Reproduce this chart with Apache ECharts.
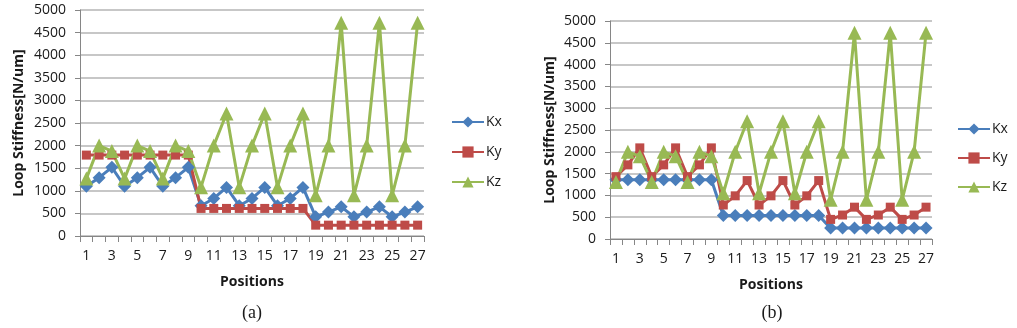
<!DOCTYPE html>
<html>
<head>
<meta charset="utf-8">
<script src="https://cdn.jsdelivr.net/npm/echarts@6/dist/echarts.min.js"></script>
<style>
  html, body { margin: 0; padding: 0; background: #fff; }
  #chart { width: 1017px; height: 328px; }
</style>
</head>
<body>
<div id="chart"></div>
<script>
// Measurement positions along the axis
const positions = ['1','2','3','4','5','6','7','8','9','10','11','12','13','14','15','16','17','18','19','20','21','22','23','24','25','26','27'];

// Panel (a): loop stiffness in N/um
const kxA = [1100,1290,1520,1100,1290,1520,1100,1290,1520, 670,830,1075,670,830,1075,670,830,1075, 425,530,645,425,530,645,425,530,645];
const kyA = [1790,1790,1790,1790,1790,1790,1790,1790,1790, 610,610,610,610,610,610,610,610,610, 240,240,240,240,240,240,240,240,240];
const kzA = [1270,2000,1880,1270,2000,1880,1270,2000,1880, 1080,2000,2710,1080,2000,2710,1080,2000,2710, 900,2000,4720,900,2000,4720,900,2000,4720];

// Panel (b): loop stiffness in N/um
const kxB = [1360,1360,1360,1360,1360,1360,1360,1360,1360, 540,540,540,540,540,540,540,540,540, 250,250,250,250,250,250,250,250,250];
const kyB = [1430,1700,2090,1430,1700,2090,1430,1700,2090, 780,990,1340,780,990,1340,780,990,1340, 450,550,730,450,550,730,450,550,730];
const kzB = [1310,2000,1900,1310,2000,1900,1310,2000,1900, 1050,2000,2700,1050,2000,2700,1050,2000,2700, 900,2000,4730,900,2000,4730,900,2000,4730];

const yTicks = { min: 0, max: 5000, interval: 500 };
const seriesNames = ['Kx', 'Ky', 'Kz'];
const panelLabels = ['(a)', '(b)'];

const FONT = '"Open Sans"';
const TEXT = '#1a1a1a';
const AXIS = '#868686';
const GRID = '#b4b4b4';
const COLORS = { Kx: '#4a7ebb', Ky: '#be4b48', Kz: '#98b954' };
const SYMBOLS = { Kx: ['diamond', 13], Ky: ['rect', 9], Kz: ['triangle', 14] };

function xAxisFor(gridIndex, nameGap) {
  return {
    type: 'category', gridIndex, data: positions, boundaryGap: true,
    name: 'Positions', nameLocation: 'middle', nameGap,
    nameTextStyle: { fontFamily: FONT, fontWeight: 'bold', fontSize: 14, color: TEXT },
    axisLine: { lineStyle: { color: AXIS, width: 1 } },
    axisTick: { show: true, interval: 0, length: 6, lineStyle: { color: AXIS } },
    axisLabel: { interval: 1, fontFamily: FONT, fontSize: 14, color: TEXT, margin: 13 },
    splitLine: { show: false }
  };
}

function yAxisFor(gridIndex, nameGap) {
  return {
    type: 'value', gridIndex, min: yTicks.min, max: yTicks.max, interval: yTicks.interval,
    name: 'Loop Stiffness[N/um]', nameLocation: 'middle', nameGap,
    nameTextStyle: { fontFamily: FONT, fontWeight: 'bold', fontSize: 14, color: TEXT },
    axisLine: { show: true, lineStyle: { color: AXIS, width: 1 } },
    axisTick: { show: true, length: 5, lineStyle: { color: AXIS } },
    axisLabel: { fontFamily: FONT, fontSize: 14, color: TEXT, margin: 14, formatter: v => String(v) },
    splitLine: { show: true, lineStyle: { color: GRID, width: 1.5 } }
  };
}

function seriesFor(name, data, idx) {
  return {
    name, type: 'line', data, xAxisIndex: idx, yAxisIndex: idx,
    symbol: SYMBOLS[name][0], symbolSize: SYMBOLS[name][1],
    showSymbol: true, showAllSymbol: true,
    lineStyle: { color: COLORS[name], width: 3 },
    itemStyle: { color: COLORS[name] },
    emphasis: { disabled: true },
    animation: false
  };
}

function legendAt(left, top, gap) {
  return {
    orient: 'vertical', left, top, itemGap: gap, padding: 0,
    itemWidth: 32, itemHeight: 14,
    data: seriesNames,
    textStyle: { fontFamily: FONT, fontSize: 14, color: TEXT, padding: [0, 0, 0, -3] }
  };
}

const chart = echarts.init(document.getElementById('chart'), null, { renderer: 'canvas' });
chart.setOption({
  animation: false,
  grid: [
    { left: 80, top: 10, width: 344, height: 226 },
    { left: 610, top: 21, width: 322, height: 218 }
  ],
  xAxis: [xAxisFor(0, 39), xAxisFor(1, 39)],
  yAxis: [yAxisFor(0, 54), yAxisFor(1, 53)],
  legend: [legendAt(451, 115, 16), legendAt(957, 122, 15)],
  series: [
    seriesFor('Kx', kxA, 0), seriesFor('Ky', kyA, 0), seriesFor('Kz', kzA, 0),
    seriesFor('Kx', kxB, 1), seriesFor('Ky', kyB, 1), seriesFor('Kz', kzB, 1)
  ],
  graphic: [
    { type: 'text', x: 252, y: 313, style: { text: panelLabels[0], font: '18px "Liberation Serif"', fill: TEXT, align: 'center', verticalAlign: 'middle' } },
    { type: 'text', x: 772, y: 313, style: { text: panelLabels[1], font: '18px "Liberation Serif"', fill: TEXT, align: 'center', verticalAlign: 'middle' } }
  ]
});
</script>
</body>
</html>
